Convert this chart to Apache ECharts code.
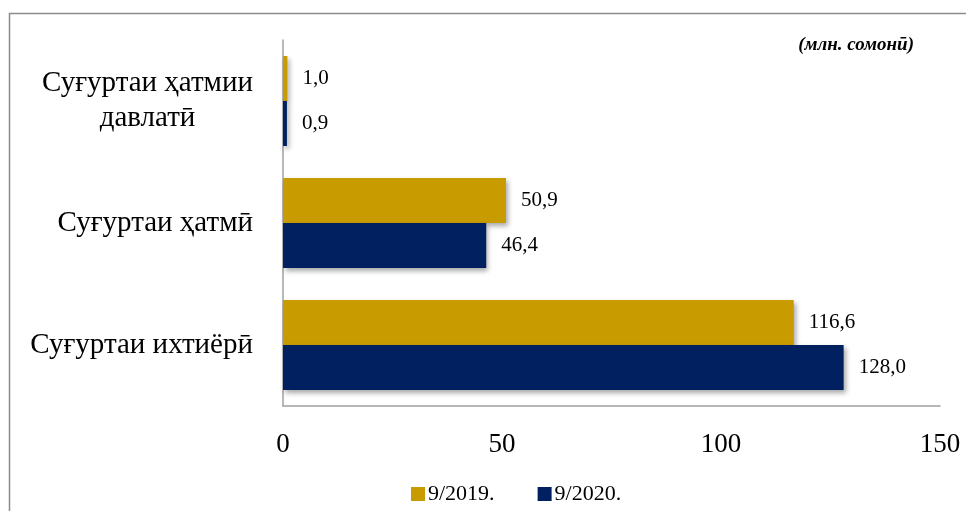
<!DOCTYPE html>
<html><head><meta charset="utf-8">
<script src="https://cdn.jsdelivr.net/npm/echarts@6/dist/echarts.min.js"></script>
<style>html,body{margin:0;padding:0;background:#fff}#c{width:966px;height:511px}</style>
</head><body><div id="c"></div>
<script>
const categories = ['Суғуртаи ҳатмии\nдавлатӣ', 'Суғуртаи ҳатмӣ', 'Суғуртаи ихтиёрӣ'];
const series2019 = [1.0, 50.9, 116.6];
const series2020 = [0.9, 46.4, 128.0];
const seriesNames = ['9/2019.', '9/2020.'];
const xTicks = [0, 50, 100, 150];
const unitText = '(млн. сомонӣ)';

const FONT = 'Liberation Serif';
const chart = echarts.init(document.getElementById('c'));
const fmt = v => v.toFixed(1).replace('.', ',');
const shadow = {shadowBlur: 5, shadowOffsetX: 2, shadowOffsetY: 3, shadowColor: 'rgba(0,0,0,0.35)'};

chart.setOption({
  animation: false,
  backgroundColor: '#fff',
  graphic: [
    {type: 'rect', left: 7, top: 11, shape: {width: 1000, height: 600}, style: {fill: 'none', stroke: '#8c8c8c', lineWidth: 1.5}, silent: true},
    {type: 'text', right: 52, top: 36, style: {text: unitText, font: 'italic bold 19px "' + FONT + '"', fill: '#000'}}
  ],
  legend: {
    top: 478, left: 406, itemWidth: 14, itemHeight: 14, itemGap: 43,
    icon: 'rect',
    textStyle: {fontFamily: FONT, fontSize: 22, color: '#000', padding: [0, 0, 0, -2]},
    data: seriesNames
  },
  grid: {left: 283, right: 26, top: 40, bottom: 105, containLabel: false},
  xAxis: {
    type: 'value', min: xTicks[0], max: xTicks[xTicks.length - 1], interval: 50,
    axisLine: {show: true, lineStyle: {color: '#a0a0a0', width: 1.5}},
    axisTick: {show: false},
    splitLine: {show: false},
    axisLabel: {fontFamily: FONT, fontSize: 27, color: '#000', margin: 25}
  },
  yAxis: {
    type: 'category', inverse: true, data: categories,
    axisLine: {show: true, lineStyle: {color: '#a0a0a0', width: 1.5}},
    axisTick: {show: false},
    axisLabel: {
      margin: 30, color: '#000',
      formatter: v => v.split('\n').map(s => '{c|' + s + '}').join('\n'),
      rich: {c: {fontFamily: FONT, fontSize: 29, lineHeight: 35, align: 'center', color: '#000'}}
    }
  },
  series: [
    {name: seriesNames[0], type: 'bar', data: series2019, barWidth: 45, barGap: '0%',
     itemStyle: Object.assign({color: '#C89B00'}, shadow),
     label: {show: true, position: 'right', distance: 15, formatter: p => fmt(p.value), fontFamily: FONT, fontSize: 21, color: '#000'}},
    {name: seriesNames[1], type: 'bar', data: series2020, barWidth: 45,
     itemStyle: Object.assign({color: '#002060'}, shadow),
     label: {show: true, position: 'right', distance: 15, formatter: p => fmt(p.value), fontFamily: FONT, fontSize: 21, color: '#000'}}
  ]
});
</script></body></html>
